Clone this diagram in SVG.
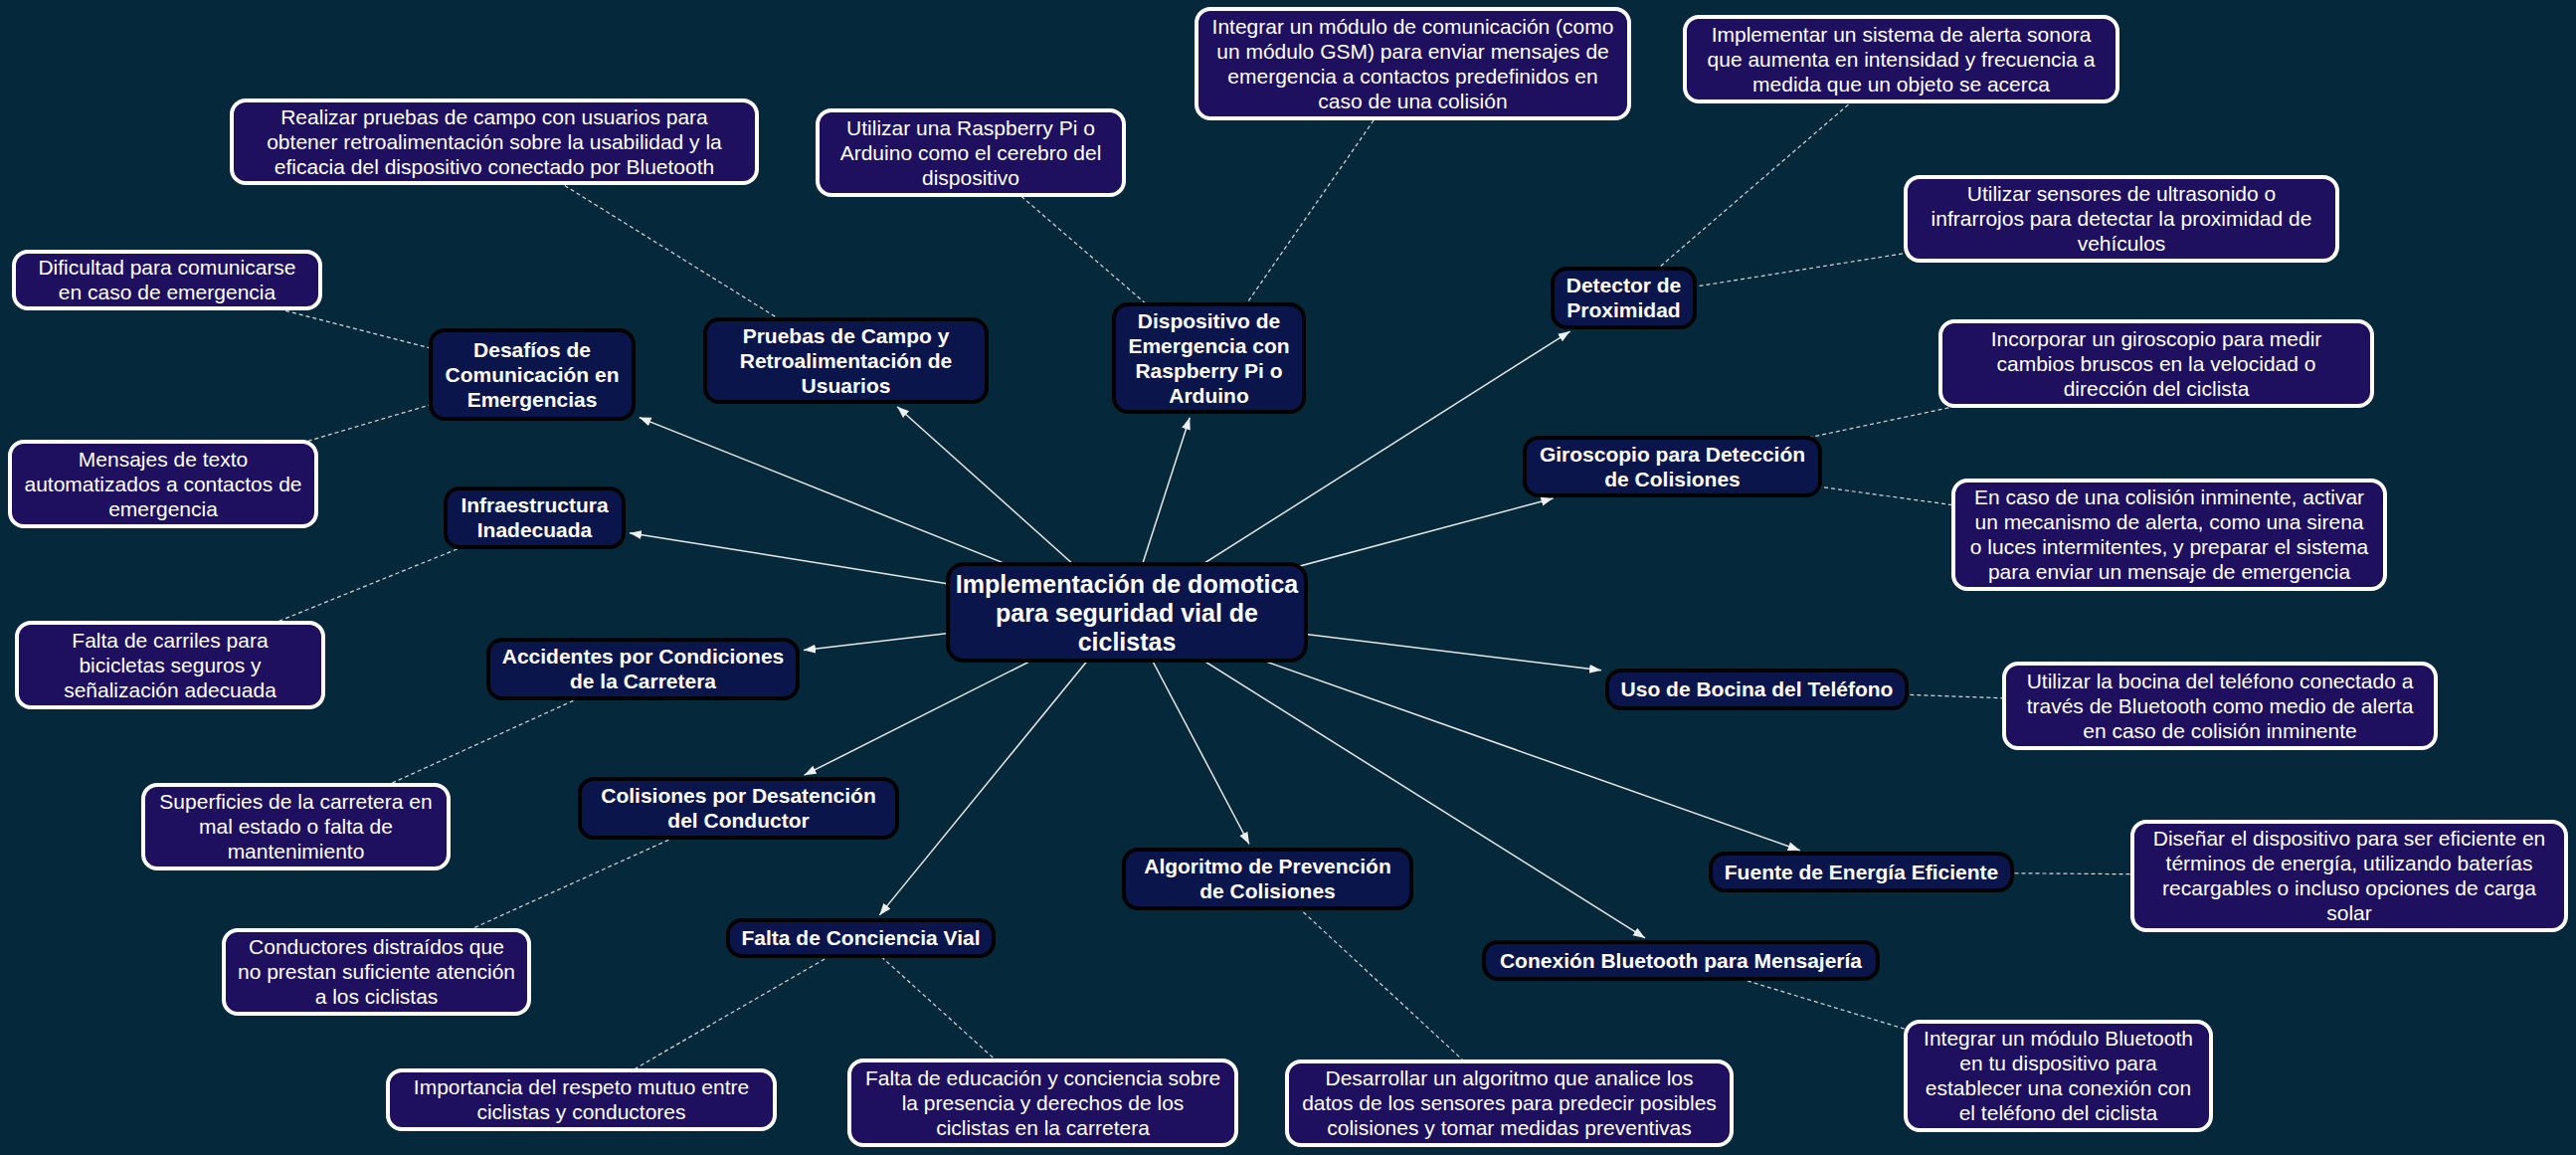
<svg xmlns="http://www.w3.org/2000/svg" width="2590" height="1161" viewBox="0 0 2590 1161">
<style>
.bg{fill:#05293a}
.topic rect{fill:#0a154b;stroke:#020202;stroke-width:4}
.leaf rect{fill:#1e105f;stroke:#ffffff;stroke-width:4}
.central rect{fill:#0a154b;stroke:#020202;stroke-width:4}
text{fill:#ffffff;font-family:"Liberation Sans",Arial,sans-serif;text-anchor:middle}
.topic text{font-size:21px;font-weight:bold}
.leaf text{font-size:21px}
.central text{font-size:25px;font-weight:bold}
.arrow{stroke:#e8e8e8;stroke-width:1.5;fill:none}
.dash{stroke:#d8d8d8;stroke-width:1.2;fill:none;stroke-dasharray:4 3}
</style>
<defs>
<marker id="ah" markerUnits="userSpaceOnUse" markerWidth="13" markerHeight="10" refX="12" refY="4.5" orient="auto">
<path d="M0,0 L12,4.5 L0,9 z" fill="#f0f0f0"/>
</marker>
</defs>
<rect class="bg" x="0" y="0" width="2590" height="1161"/>
<g id="connectors">
<line class="arrow" x1="1133" y1="615.5" x2="642.7" y2="419.6" marker-end="url(#ah)"/>
<line class="arrow" x1="1133" y1="615.5" x2="902.1" y2="408.7" marker-end="url(#ah)"/>
<line class="arrow" x1="1133" y1="615.5" x2="1196.2" y2="419.8" marker-end="url(#ah)"/>
<line class="arrow" x1="1133" y1="615.5" x2="1578.6" y2="333.1" marker-end="url(#ah)"/>
<line class="arrow" x1="1133" y1="615.5" x2="1561.5" y2="501" marker-end="url(#ah)"/>
<line class="arrow" x1="1133" y1="615.5" x2="633" y2="535.7" marker-end="url(#ah)"/>
<line class="arrow" x1="1133" y1="615.5" x2="808" y2="653.5" marker-end="url(#ah)"/>
<line class="arrow" x1="1133" y1="615.5" x2="808.6" y2="779.2" marker-end="url(#ah)"/>
<line class="arrow" x1="1133" y1="615.5" x2="884.3" y2="919.9" marker-end="url(#ah)"/>
<line class="arrow" x1="1133" y1="615.5" x2="1256" y2="848.5" marker-end="url(#ah)"/>
<line class="arrow" x1="1133" y1="615.5" x2="1610" y2="673.8" marker-end="url(#ah)"/>
<line class="arrow" x1="1133" y1="615.5" x2="1809.7" y2="854.7" marker-end="url(#ah)"/>
<line class="arrow" x1="1133" y1="615.5" x2="1654" y2="942.9" marker-end="url(#ah)"/>
<line class="dash" x1="850.5" y1="362.5" x2="497" y2="142.5"/>
<line class="dash" x1="535" y1="376.5" x2="168" y2="281.5"/>
<line class="dash" x1="535" y1="376.5" x2="164" y2="486.5"/>
<line class="dash" x1="1215.5" y1="360" x2="976" y2="153.5"/>
<line class="dash" x1="1215.5" y1="360" x2="1420.5" y2="64"/>
<line class="dash" x1="1632.5" y1="299.5" x2="1911.5" y2="59.5"/>
<line class="dash" x1="1632.5" y1="299.5" x2="2133" y2="220"/>
<line class="dash" x1="1681.5" y1="469" x2="2168" y2="365.5"/>
<line class="dash" x1="1681.5" y1="469" x2="2181" y2="537.5"/>
<line class="dash" x1="537.5" y1="520.5" x2="171" y2="668.5"/>
<line class="dash" x1="646.5" y1="672.5" x2="297.5" y2="831"/>
<line class="dash" x1="742.5" y1="812.5" x2="378.5" y2="977"/>
<line class="dash" x1="865.5" y1="943" x2="584.5" y2="1105.5"/>
<line class="dash" x1="865.5" y1="943" x2="1048.5" y2="1108.5"/>
<line class="dash" x1="1274.5" y1="883.5" x2="1517.5" y2="1109"/>
<line class="dash" x1="1766.5" y1="693" x2="2232" y2="709.5"/>
<line class="dash" x1="1871.5" y1="876.5" x2="2362" y2="880.5"/>
<line class="dash" x1="1690" y1="965.5" x2="2069.5" y2="1081.5"/>
</g>
<g id="central" class="central">
<rect x="953" y="567" width="360" height="97" rx="16"/>
<text x="1133" y="595.5"><tspan x="1133">Implementación de domotica</tspan><tspan x="1133" dy="29">para seguridad vial de</tspan><tspan x="1133" dy="29">ciclistas</tspan></text>
</g>
<g id="t-desafios" class="topic">
<rect x="433" y="332" width="204" height="89" rx="14"/>
<text y="358.5"><tspan x="535">Desafíos de</tspan><tspan x="535" dy="25">Comunicación en</tspan><tspan x="535" dy="25">Emergencias</tspan></text>
</g>
<g id="t-pruebas" class="topic">
<rect x="709" y="321" width="283" height="83" rx="14"/>
<text y="344.5"><tspan x="850.5">Pruebas de Campo y</tspan><tspan x="850.5" dy="25">Retroalimentación de</tspan><tspan x="850.5" dy="25">Usuarios</tspan></text>
</g>
<g id="t-dispositivo" class="topic">
<rect x="1120" y="306" width="191" height="108" rx="14"/>
<text y="329.5"><tspan x="1215.5">Dispositivo de</tspan><tspan x="1215.5" dy="25">Emergencia con</tspan><tspan x="1215.5" dy="25">Raspberry Pi o</tspan><tspan x="1215.5" dy="25">Arduino</tspan></text>
</g>
<g id="t-detector" class="topic">
<rect x="1561" y="270" width="143" height="59" rx="14"/>
<text y="294"><tspan x="1632.5">Detector de</tspan><tspan x="1632.5" dy="25">Proximidad</tspan></text>
</g>
<g id="t-giroscopio" class="topic">
<rect x="1533" y="440" width="297" height="58" rx="14"/>
<text y="463.5"><tspan x="1681.5">Giroscopio para Detección</tspan><tspan x="1681.5" dy="25">de Colisiones</tspan></text>
</g>
<g id="t-infraestructura" class="topic">
<rect x="448" y="491" width="179" height="59" rx="14"/>
<text y="515"><tspan x="537.5">Infraestructura</tspan><tspan x="537.5" dy="25">Inadecuada</tspan></text>
</g>
<g id="t-accidentes" class="topic">
<rect x="491" y="643" width="311" height="59" rx="14"/>
<text y="667"><tspan x="646.5">Accidentes por Condiciones</tspan><tspan x="646.5" dy="25">de la Carretera</tspan></text>
</g>
<g id="t-colisiones" class="topic">
<rect x="583" y="783" width="319" height="59" rx="14"/>
<text y="807"><tspan x="742.5">Colisiones por Desatención</tspan><tspan x="742.5" dy="25">del Conductor</tspan></text>
</g>
<g id="t-conciencia" class="topic">
<rect x="732" y="925" width="267" height="36" rx="14"/>
<text x="865.5" y="950">Falta de Conciencia Vial</text>
</g>
<g id="t-algoritmo" class="topic">
<rect x="1130" y="854" width="289" height="59" rx="14"/>
<text y="878"><tspan x="1274.5">Algoritmo de Prevención</tspan><tspan x="1274.5" dy="25">de Colisiones</tspan></text>
</g>
<g id="t-bocina" class="topic">
<rect x="1616" y="674" width="301" height="38" rx="14"/>
<text x="1766.5" y="700">Uso de Bocina del Teléfono</text>
</g>
<g id="t-fuente" class="topic">
<rect x="1720" y="858" width="303" height="37" rx="14"/>
<text x="1871.5" y="883.5">Fuente de Energía Eficiente</text>
</g>
<g id="t-conexion" class="topic">
<rect x="1492" y="947" width="396" height="37" rx="14"/>
<text x="1690" y="972.5">Conexión Bluetooth para Mensajería</text>
</g>
<g id="l-realizar" class="leaf">
<rect x="233" y="101" width="528" height="83" rx="14"/>
<text y="124.5"><tspan x="497">Realizar pruebas de campo con usuarios para</tspan><tspan x="497" dy="25">obtener retroalimentación sobre la usabilidad y la</tspan><tspan x="497" dy="25">eficacia del dispositivo conectado por Bluetooth</tspan></text>
</g>
<g id="l-dificultad" class="leaf">
<rect x="14" y="253" width="308" height="57" rx="14"/>
<text y="276"><tspan x="168">Dificultad para comunicarse</tspan><tspan x="168" dy="25">en caso de emergencia</tspan></text>
</g>
<g id="l-mensajes" class="leaf">
<rect x="10" y="444" width="308" height="85" rx="14"/>
<text y="468.5"><tspan x="164">Mensajes de texto</tspan><tspan x="164" dy="25">automatizados a contactos de</tspan><tspan x="164" dy="25">emergencia</tspan></text>
</g>
<g id="l-raspberry" class="leaf">
<rect x="822" y="111" width="308" height="85" rx="14"/>
<text y="135.5"><tspan x="976">Utilizar una Raspberry Pi o</tspan><tspan x="976" dy="25">Arduino como el cerebro del</tspan><tspan x="976" dy="25">dispositivo</tspan></text>
</g>
<g id="l-gsm" class="leaf">
<rect x="1203" y="9" width="435" height="110" rx="14"/>
<text y="33.5"><tspan x="1420.5">Integrar un módulo de comunicación (como</tspan><tspan x="1420.5" dy="25">un módulo GSM) para enviar mensajes de</tspan><tspan x="1420.5" dy="25">emergencia a contactos predefinidos en</tspan><tspan x="1420.5" dy="25">caso de una colisión</tspan></text>
</g>
<g id="l-alerta" class="leaf">
<rect x="1694" y="17" width="435" height="85" rx="14"/>
<text y="41.5"><tspan x="1911.5">Implementar un sistema de alerta sonora</tspan><tspan x="1911.5" dy="25">que aumenta en intensidad y frecuencia a</tspan><tspan x="1911.5" dy="25">medida que un objeto se acerca</tspan></text>
</g>
<g id="l-sensores" class="leaf">
<rect x="1916" y="178" width="434" height="84" rx="14"/>
<text y="202"><tspan x="2133">Utilizar sensores de ultrasonido o</tspan><tspan x="2133" dy="25">infrarrojos para detectar la proximidad de</tspan><tspan x="2133" dy="25">vehículos</tspan></text>
</g>
<g id="l-giroscopio" class="leaf">
<rect x="1951" y="323" width="434" height="85" rx="14"/>
<text y="347.5"><tspan x="2168">Incorporar un giroscopio para medir</tspan><tspan x="2168" dy="25">cambios bruscos en la velocidad o</tspan><tspan x="2168" dy="25">dirección del ciclista</tspan></text>
</g>
<g id="l-sirena" class="leaf">
<rect x="1964" y="483" width="434" height="109" rx="14"/>
<text y="507"><tspan x="2181">En caso de una colisión inminente, activar</tspan><tspan x="2181" dy="25">un mecanismo de alerta, como una sirena</tspan><tspan x="2181" dy="25">o luces intermitentes, y preparar el sistema</tspan><tspan x="2181" dy="25">para enviar un mensaje de emergencia</tspan></text>
</g>
<g id="l-carriles" class="leaf">
<rect x="17" y="626" width="308" height="85" rx="14"/>
<text y="650.5"><tspan x="171">Falta de carriles para</tspan><tspan x="171" dy="25">bicicletas seguros y</tspan><tspan x="171" dy="25">señalización adecuada</tspan></text>
</g>
<g id="l-superficies" class="leaf">
<rect x="144" y="789" width="307" height="84" rx="14"/>
<text y="813"><tspan x="297.5">Superficies de la carretera en</tspan><tspan x="297.5" dy="25">mal estado o falta de</tspan><tspan x="297.5" dy="25">mantenimiento</tspan></text>
</g>
<g id="l-conductores" class="leaf">
<rect x="225" y="935" width="307" height="84" rx="14"/>
<text y="959"><tspan x="378.5">Conductores distraídos que</tspan><tspan x="378.5" dy="25">no prestan suficiente atención</tspan><tspan x="378.5" dy="25">a los ciclistas</tspan></text>
</g>
<g id="l-respeto" class="leaf">
<rect x="390" y="1076" width="389" height="59" rx="14"/>
<text y="1100"><tspan x="584.5">Importancia del respeto mutuo entre</tspan><tspan x="584.5" dy="25">ciclistas y conductores</tspan></text>
</g>
<g id="l-educacion" class="leaf">
<rect x="854" y="1066" width="389" height="85" rx="14"/>
<text y="1090.5"><tspan x="1048.5">Falta de educación y conciencia sobre</tspan><tspan x="1048.5" dy="25">la presencia y derechos de los</tspan><tspan x="1048.5" dy="25">ciclistas en la carretera</tspan></text>
</g>
<g id="l-desarrollar" class="leaf">
<rect x="1294" y="1067" width="447" height="84" rx="14"/>
<text y="1091"><tspan x="1517.5">Desarrollar un algoritmo que analice los</tspan><tspan x="1517.5" dy="25">datos de los sensores para predecir posibles</tspan><tspan x="1517.5" dy="25">colisiones y tomar medidas preventivas</tspan></text>
</g>
<g id="l-bocina" class="leaf">
<rect x="2015" y="667" width="434" height="85" rx="14"/>
<text y="691.5"><tspan x="2232">Utilizar la bocina del teléfono conectado a</tspan><tspan x="2232" dy="25">través de Bluetooth como medio de alerta</tspan><tspan x="2232" dy="25">en caso de colisión inminente</tspan></text>
</g>
<g id="l-energia" class="leaf">
<rect x="2144" y="826" width="436" height="109" rx="14"/>
<text y="850"><tspan x="2362">Diseñar el dispositivo para ser eficiente en</tspan><tspan x="2362" dy="25">términos de energía, utilizando baterías</tspan><tspan x="2362" dy="25">recargables o incluso opciones de carga</tspan><tspan x="2362" dy="25">solar</tspan></text>
</g>
<g id="l-bluetooth" class="leaf">
<rect x="1916" y="1027" width="307" height="109" rx="14"/>
<text y="1051"><tspan x="2069.5">Integrar un módulo Bluetooth</tspan><tspan x="2069.5" dy="25">en tu dispositivo para</tspan><tspan x="2069.5" dy="25">establecer una conexión con</tspan><tspan x="2069.5" dy="25">el teléfono del ciclista</tspan></text>
</g>
</svg>
